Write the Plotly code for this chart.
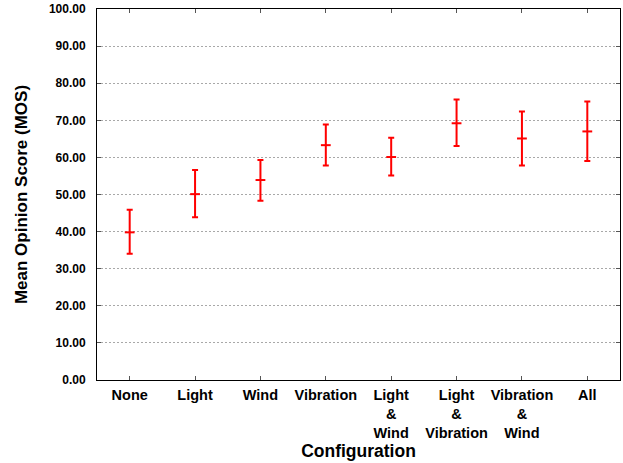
import plotly.graph_objects as go

categories = ["None", "Light", "Wind", "Vibration", "Light<br>&<br>Wind",
              "Light<br>&<br>Vibration", "Vibration<br>&<br>Wind", "All"]
mos_mean = [39.8, 50.1, 53.9, 63.3, 60.1, 69.2, 65.1, 67.0]
mos_upper = [45.9, 56.6, 59.3, 68.9, 65.3, 75.6, 72.4, 75.1]
mos_lower = [34.0, 43.9, 48.3, 57.8, 55.1, 63.1, 57.8, 59.0]

err_plus = [u - m for u, m in zip(mos_upper, mos_mean)]
err_minus = [m - l for m, l in zip(mos_mean, mos_lower)]
xs = list(range(len(categories)))

fig = go.Figure()
fig.add_trace(go.Scatter(
    x=xs, y=mos_mean, mode="markers",
    marker=dict(symbol="line-ew-open", size=7, color="red",
                line=dict(color="red", width=2)),
    error_y=dict(type="data", symmetric=False, array=err_plus,
                 arrayminus=err_minus, color="red", thickness=2, width=3),
    showlegend=False,
))

font_family = "Liberation Sans, Arial, sans-serif"
fig.update_layout(
    width=623, height=463,
    margin=dict(l=97, r=3, t=9, b=83),
    paper_bgcolor="white", plot_bgcolor="white",
    font=dict(family=font_family, color="black"),
)
fig.update_xaxes(
    range=[-0.5, 7.5], tickmode="array", tickvals=xs, ticktext=categories,
    tickfont=dict(size=14.5, family=font_family, weight="bold"),
    ticks="inside", ticklen=4, tickcolor="#555", mirror="allticks",
    ticklabelstandoff=2,
    showline=True, linecolor="black", linewidth=1, showgrid=False,
    title=dict(text="<b>Configuration</b>", font=dict(size=17.5), standoff=0),
    zeroline=False,
)
fig.update_yaxes(
    range=[0, 100], tickmode="array", tickvals=list(range(0, 101, 10)),
    tickformat=".2f",
    tickfont=dict(size=12, family=font_family, weight="bold"),
    ticks="inside", ticklen=4, tickcolor="#555", mirror="allticks",
    ticklabelstandoff=8,
    showline=True, linecolor="black", linewidth=1,
    showgrid=True, gridcolor="#a8a8a8", griddash="2px,2px", gridwidth=1,
    title=dict(text="<b>Mean Opinion Score (MOS)</b>", font=dict(size=17), standoff=16),
    zeroline=False,
)
fig.write_html("out.html")
